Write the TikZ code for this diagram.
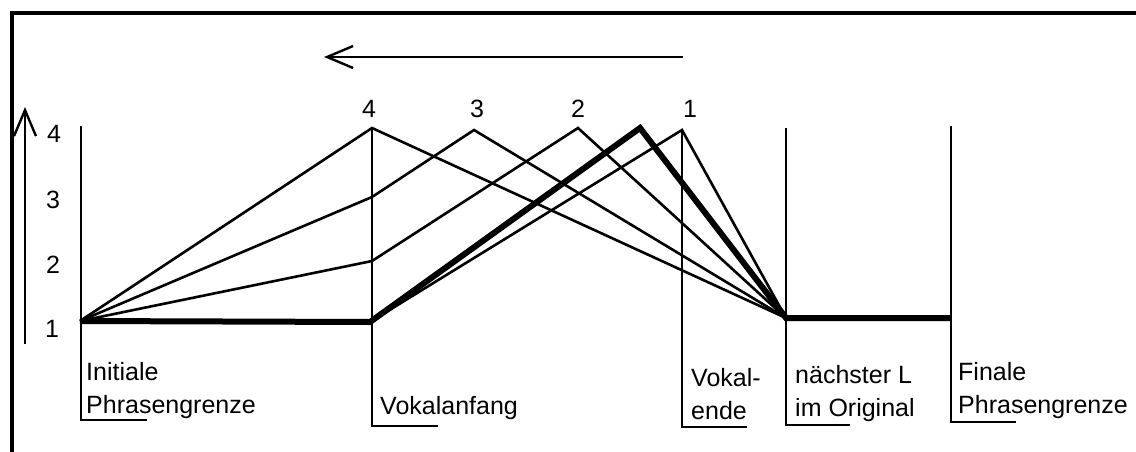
\documentclass[tikz,border=0pt]{standalone}
\usepackage{fontspec}
\setmainfont{Liberation Sans}
\usetikzlibrary{arrows.meta}
\begin{document}
\begin{tikzpicture}[x=1pt,y=-1pt,
  thinl/.style={line width=2.6pt,line join=miter},
  thickl/.style={line width=6pt,line join=miter},
  bar/.style={line width=2.4pt},
  uline/.style={line width=2.8pt},
  lbl/.style={font=\fontsize{25}{33}\selectfont,inner sep=0pt,align=left,anchor=base west},
  num/.style={font=\fontsize{25}{30}\selectfont,inner sep=0pt},
  arr/.style={line width=2.4pt,-{Straight Barb[length=26pt,width=22pt,line width=2.4pt]}}]
\useasboundingbox (0,0) rectangle (1136,451);
% frame
\draw[line width=4.5pt] (12,455) -- (12,13) -- (1140,13);
% arrows
\coordinate (ya0) at (25,344);
\coordinate (ya1) at (25,107);
\draw[arr] (ya0) -- (ya1);
\coordinate (ta0) at (683,57);
\coordinate (ta1) at (324,57);
\draw[arr] (ta0) -- (ta1);
% y labels
\node[num] (y4) at (54,134) {4};
\node[num] (y3) at (53,200) {3};
\node[num] (y2) at (53,265) {2};
\node[num] (y1) at (52,329) {1};
% top labels
\node[num] (t4) at (369,109) {4};
\node[num] (t3) at (477,109) {3};
\node[num] (t2) at (578,109) {2};
\node[num] (t1) at (690,109) {1};
% vertical bars with underlines
\coordinate (b1t) at (81,126);  \coordinate (b1b) at (81,420);  \coordinate (b1e) at (147,420);
\coordinate (b2t) at (372,128); \coordinate (b2b) at (372,426); \coordinate (b2e) at (438,426);
\coordinate (b3t) at (682,130); \coordinate (b3b) at (682,427); \coordinate (b3e) at (747,427);
\coordinate (b4t) at (786,128); \coordinate (b4b) at (786,425); \coordinate (b4e) at (850,425);
\coordinate (b5t) at (951,126); \coordinate (b5b) at (951,422); \coordinate (b5e) at (1016,422);
\foreach \i in {1,...,5}{
  \draw[bar] (b\i t) -- (b\i b);
  \draw[uline] ([xshift=-1.2pt]b\i b) -- (b\i e);
}
% labels (base = baseline of last line)
\node[lbl] (l1) at (86,413) {Initiale\\Phrasengrenze};
\node[lbl] (l2) at (380,414) {Vokalanfang};
\node[lbl] (l3) at (691,419) {Vokal-\\ende};
\node[lbl] (l4) at (795,416) {nächster L\\im Original};
\node[lbl] (l5) at (958,413) {Finale\\Phrasengrenze};
% contour points
\coordinate (I1) at (80,321);
\coordinate (V4) at (372,128);
\coordinate (V3) at (372,197);
\coordinate (V2) at (372,261);
\coordinate (V1) at (370,322);
\coordinate (P3) at (474,130);
\coordinate (P2) at (578,128);
\coordinate (PT) at (640,128);
\coordinate (P1) at (682,130);
\coordinate (C) at (786,318);
\coordinate (F) at (951,318);
\draw[thinl] (I1) -- (V4) -- (C);
\draw[thinl] (I1) -- (V3) -- (P3) -- (C);
\draw[thinl] (I1) -- (V2) -- (P2) -- (C);
\draw[thinl] (V1) -- (P1) -- (C);
\draw[thickl] (I1) -- (V1) -- (PT) -- (C) -- (F);
\end{tikzpicture}
\end{document}
